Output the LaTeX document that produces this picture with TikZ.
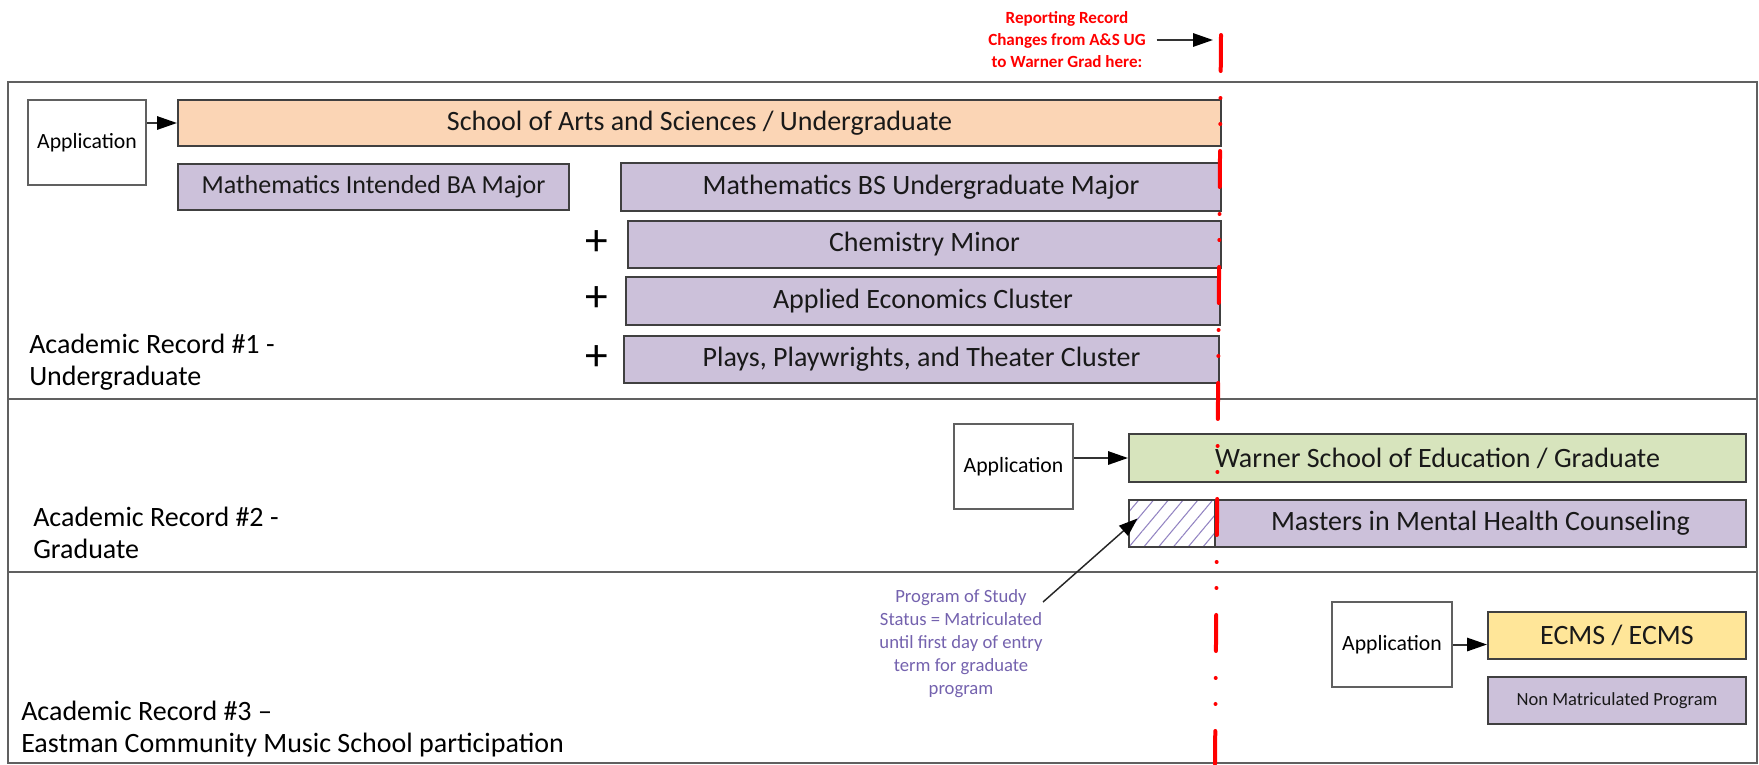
\documentclass[tikz,border=0pt]{standalone}
\usepackage{fontspec}
\setmainfont{Carlito}
\usetikzlibrary{arrows.meta,patterns.meta}
\definecolor{peach}{HTML}{FBD5B5}
\definecolor{lav}{HTML}{CCC1DA}
\definecolor{sage}{HTML}{D7E4BD}
\definecolor{sand}{HTML}{FFE699}
\definecolor{edgecol}{HTML}{404040}
\definecolor{framecol}{HTML}{606060}
\definecolor{calltext}{HTML}{7462AE}
\definecolor{hatchcol}{HTML}{9384C2}
\begin{document}
\begin{tikzpicture}[x=0.75pt,y=-0.75pt,
  rect/.style args={#1,#2,#3,#4}{minimum width={(#3-#1)*0.75pt}, minimum height={(#4-#2)*0.75pt},
    at={({(#1+#3)/2},{(#2+#4)/2})}},
  box/.style={draw=edgecol, line width=1.5pt, inner sep=0pt, text=black!90,
    font=\fontsize{21}{25}\selectfont},
  appbox/.style={draw=framecol, line width=1.9pt, fill=white, inner sep=0pt,
    font=\fontsize{16.3}{19}\selectfont},
  arr/.style={draw=black!80, line width=1.5pt, -{Triangle[length=15pt,width=10pt,color=black]}},
  thinarr/.style={draw=black!85, line width=1.1pt, -{Triangle[length=14pt,width=10pt,color=black]}},
  framestyle/.style={draw=framecol, line width=1.9pt},
  redline/.style={draw=red, line width=3pt, line cap=round,
    dash pattern=on 27pt off 20.25pt on 0pt off 19.5pt on 0pt off 20.25pt},
  rowlabel/.style={anchor=base west, align=left, inner sep=0pt,
    font=\fontsize{21}{24}\selectfont},
  plus/.style={inner sep=0pt, font=\fontsize{34}{36}\selectfont}
]
\useasboundingbox (0,0) rectangle (1759,764);

% frame and row separators
\draw[framestyle] (8,82) rectangle (1757,763);
\draw[framestyle] (8,399) -- (1757,399);
\draw[framestyle] (8,572) -- (1757,572);

% ---- Record 1 ----
\node[appbox, rect={28,100,146,185}] (app1) {Application};
\node[box, fill=peach, rect={178,100,1221,146}] (sas) {School of Arts and Sciences / Undergraduate};
\node[box, fill=lav, rect={178,164,569,210}, font=\fontsize{19.5}{23}\selectfont] (mathba) {Mathematics Intended BA Major};
\node[box, fill=lav, rect={621,163,1221,211}] (mathbs) {Mathematics BS Undergraduate Major};
\node[box, fill=lav, rect={628,221,1221,268}] (chem) {Chemistry Minor};
\node[box, fill=lav, rect={626,277,1220,325}] (econ) {Applied Economics Cluster};
\node[box, fill=lav, rect={624,336,1219,383}] (plays) {Plays, Playwrights, and Theater Cluster};
\node[plus] (p1) at (597,243) {+};
\node[plus] (p2) at (597,299) {+};
\node[plus] (p3) at (597,358) {+};
\node[rowlabel] (rec1) at (29,385) {Academic Record \#1 -\\Undergraduate};
\draw[arr] (app1.east |- sas.west) -- (sas.west);

% ---- Record 2 ----
\node[appbox, rect={954,424,1073,509}] (app2) {Application};
\node[box, fill=sage, rect={1129,434,1746,482}] (warner) {Warner School of Education / Graduate};
\node[box, pattern={Lines[angle=50,distance=8.5pt,line width=0.8pt]}, pattern color=hatchcol,
  rect={1129,500,1215,547}] (hatch) {};
\node[box, fill=lav, rect={1215,500,1746,547}] (masters) {Masters in Mental Health Counseling};
\node[rowlabel] (rec2) at (33,558) {Academic Record \#2 -\\Graduate};
\draw[arr] (app2.east |- warner.west) -- (warner.west);

% callout
\node[align=center, text=calltext, inner sep=0pt, font=\fontsize{14}{17.25}\selectfont] (callout) at (961,644)
  {Program of Study\\Status = Matriculated\\until first day of entry\\term for graduate\\program};
\coordinate (cstart) at (1043,602);
\draw[thinarr] (cstart) -- ([shift={(9,19)}]hatch.north west);

% ---- Record 3 ----
\node[appbox, rect={1332,602,1452,687}] (app3) {Application};
\node[box, fill=sand, rect={1488,612,1746,659}] (ecms) {ECMS / ECMS};
\node[box, fill=lav, rect={1488,677,1746,724}, font=\fontsize{13.9}{17}\selectfont] (nonmat) {Non Matriculated Program};
\node[rowlabel] (rec3) at (21,752) {Academic Record \#3 --\\Eastman Community Music School participation};
\draw[arr] (app3.east) -- (app3.east -| ecms.west);

% ---- reporting line ----
\coordinate (rtop) at (1221,35);
\coordinate (rbot) at (1215,764);
\draw[redline] (rtop) -- (rbot);
\node[align=center, text=red, inner sep=0pt, font=\fontsize{12.8}{16.5}\bfseries] (note) at (1067,40)
  {Reporting Record\\Changes from A\&S UG\\to Warner Grad here:};
\coordinate (rarrow) at (1213,40);
\draw[arr] ([xshift=8]note.east) -- (rarrow);
\end{tikzpicture}
\end{document}
